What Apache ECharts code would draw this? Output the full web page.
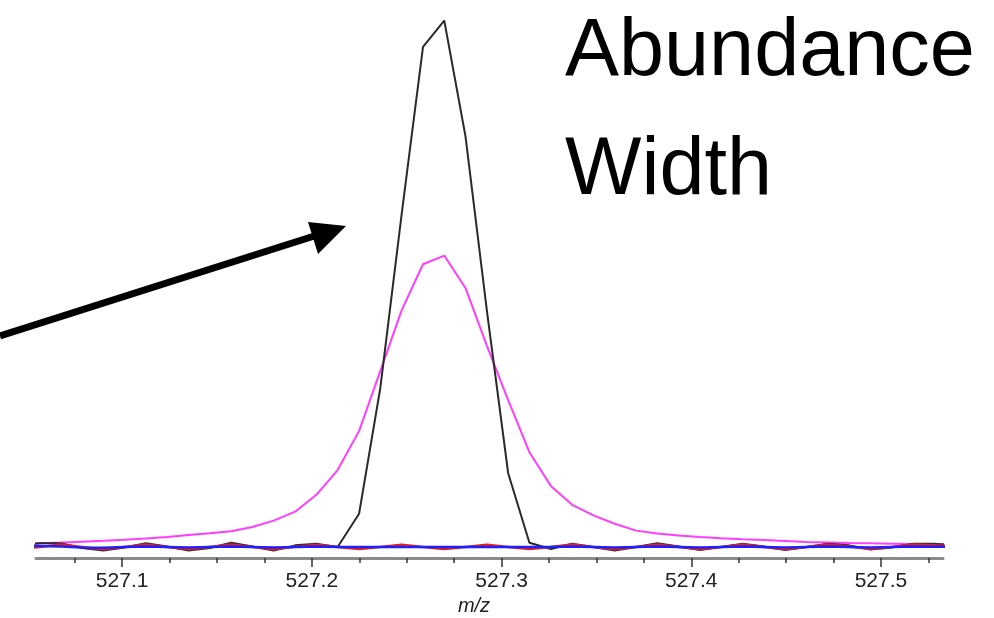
<!DOCTYPE html>
<html>
<head>
<meta charset="utf-8">
<script src="https://cdn.jsdelivr.net/npm/echarts@6/dist/echarts.min.js"></script>
<style>
  html, body { margin: 0; padding: 0; background: #fff; }
  #chart { width: 994px; height: 618px; }
</style>
</head>
<body>
<div id="chart"></div>
<script>
// m/z sampling grid shared by all traces
const mz = [
  527.0451, 527.0564, 527.0676, 527.0788, 527.0901, 527.1013, 527.1125, 527.1238,
  527.1350, 527.1462, 527.1575, 527.1687, 527.1799, 527.1912, 527.2024, 527.2136,
  527.2249, 527.2361, 527.2473, 527.2586, 527.2698, 527.2810, 527.2923, 527.3035,
  527.3147, 527.3260, 527.3372, 527.3484, 527.3597, 527.3709, 527.3821, 527.3934,
  527.4046, 527.4158, 527.4271, 527.4383, 527.4495, 527.4608, 527.4720, 527.4832,
  527.4945, 527.5057, 527.5170, 527.5282, 527.5394
];

// narrow, tall profile (black)
const narrowPeak = [
  0.3, 0.7, 0.7, -0.2, -0.7, -0.1, 0.7, 0.1,
  -0.7, -0.2, 0.8, 0.1, -0.7, 0.3, 0.6, 0.0,
  6.3, 30.2, 63.1, 95.0, 100.0, 78.0, 44.8, 14.0,
  0.8, -0.4, 0.6, 0.0, -0.7, 0.0, 0.7, 0.1,
  -0.6, 0.0, 0.6, 0.1, -0.6, 0.0, 0.6, 0.3,
  -0.5, -0.1, 0.6, 0.6, 0.3
];

// broad, lower profile (magenta)
const broadPeak = [
  0.63, 0.72, 0.84, 1.0, 1.16, 1.37, 1.6, 1.9,
  2.25, 2.6, 3.0, 3.8, 5.0, 6.7, 9.9, 14.6,
  22.0, 33.4, 44.9, 53.7, 55.35, 49.2, 38.2, 27.9,
  18.0, 11.6, 8.0, 6.0, 4.4, 3.1, 2.55, 2.17,
  1.9, 1.67, 1.48, 1.31, 1.14, 0.95, 0.86, 0.76,
  0.68, 0.63, 0.57, 0.53, 0.5
];

// residual traces near zero
const residualRed = [
  -0.4, 0.0, 0.45, 0.0, -0.45, 0.0, 0.45, 0.0,
  -0.45, 0.0, 0.45, 0.0, -0.45, 0.05, 0.4, 0.0,
  -0.4, 0.0, 0.4, 0.0, -0.4, 0.0, 0.4, 0.0,
  -0.4, 0.0, 0.45, 0.0, -0.45, 0.0, 0.45, 0.0,
  -0.45, 0.0, 0.45, 0.0, -0.45, 0.0, 0.45, 0.1,
  -0.4, 0.0, 0.45, 0.3, 0.2
];

const residualBlue = [
  0.3, 0.2, 0.1, -0.1, -0.15, 0.0, 0.1, 0.0,
  -0.1, 0.0, 0.1, 0.0, -0.1, 0.0, 0.1, 0.0,
  0.0, 0.0, 0.0, 0.0, 0.0, 0.0, 0.0, 0.0,
  0.0, 0.0, 0.1, 0.0, -0.1, 0.0, 0.1, 0.0,
  -0.1, 0.0, 0.1, 0.0, -0.1, 0.0, 0.1, 0.0,
  -0.1, 0.0, 0.1, 0.05, 0.0
];

// axis ticks
const majorTicks = [527.1, 527.2, 527.3, 527.4, 527.5];
const minorTicks = [
  527.075, 527.125, 527.15, 527.175, 527.225, 527.25, 527.275,
  527.325, 527.35, 527.375, 527.425, 527.45, 527.475, 527.525
];
const xRange = [527.0546, 527.5327];
const yRange = [-2.1, 102];

const pairs = (ys) => mz.map((x, i) => [x, ys[i]]);

const chart = echarts.init(document.getElementById('chart'), null, { renderer: 'canvas' });

const baseAxis = {
  type: 'value',
  min: xRange[0],
  max: xRange[1],
  position: 'bottom',
  splitLine: { show: false },
  axisLine: { show: false, onZero: false }
};

chart.setOption({
  animation: false,
  backgroundColor: '#ffffff',
  grid: {
    left: 36, right: 51, top: 10, bottom: 60,
    containLabel: false, outerBoundsMode: 'none'
  },
  xAxis: [
    Object.assign({}, baseAxis, {
      axisLine: { show: true, onZero: false, lineStyle: { color: '#8a8a8a', width: 3 } },
      axisTick: {
        show: true, length: 9, customValues: majorTicks,
        lineStyle: { color: '#333', width: 1.5 }
      },
      axisLabel: {
        show: true, customValues: majorTicks, margin: 13,
        formatter: (v) => v.toFixed(1),
        color: '#222', fontSize: 21, fontFamily: '"Liberation Sans", Arial, sans-serif'
      },
      name: 'm/z',
      nameLocation: 'middle',
      nameGap: 31,
      nameTextStyle: {
        fontStyle: 'italic', fontSize: 20, color: '#222',
        fontFamily: '"Liberation Sans", Arial, sans-serif',
        padding: [0, 31, 0, 0]
      }
    }),
    Object.assign({}, baseAxis, {
      axisTick: {
        show: true, length: 5, customValues: minorTicks,
        lineStyle: { color: '#333', width: 1.5 }
      },
      axisLabel: { show: false }
    })
  ],
  yAxis: {
    type: 'value',
    min: yRange[0],
    max: yRange[1],
    show: false
  },
  series: [
    {
      type: 'line', name: 'broad', data: pairs(broadPeak), showSymbol: false,
      lineStyle: { color: '#ff3cff', width: 2 }, clip: true, z: 2
    },
    {
      type: 'line', name: 'narrow', data: pairs(narrowPeak), showSymbol: false,
      lineStyle: { color: '#2a2a2a', width: 2 }, clip: true, z: 3
    },
    {
      type: 'line', name: 'red', data: pairs(residualRed), showSymbol: false,
      lineStyle: { color: '#e0201a', width: 2.5 }, clip: true, z: 4
    },
    {
      type: 'line', name: 'blue', data: pairs(residualBlue), showSymbol: false,
      lineStyle: { color: '#1f1fff', width: 2.5 }, clip: true, z: 5
    }
  ],
  graphic: [
    {
      type: 'text', left: 565, top: 12,
      style: {
        text: 'Abundance', fill: '#000', fontSize: 81,
        fontFamily: '"Liberation Sans", Arial, sans-serif'
      }
    },
    {
      type: 'text', left: 565, top: 131,
      style: {
        text: 'Width', fill: '#000', fontSize: 81,
        fontFamily: '"Liberation Sans", Arial, sans-serif'
      }
    },
    {
      type: 'line',
      shape: { x1: 0, y1: 336, x2: 330, y2: 231 },
      style: { stroke: '#000', lineWidth: 7 }
    },
    {
      type: 'polygon',
      shape: { points: [[346, 226], [308, 222], [318, 254]] },
      style: { fill: '#000' }
    }
  ]
});
</script>
</body>
</html>
